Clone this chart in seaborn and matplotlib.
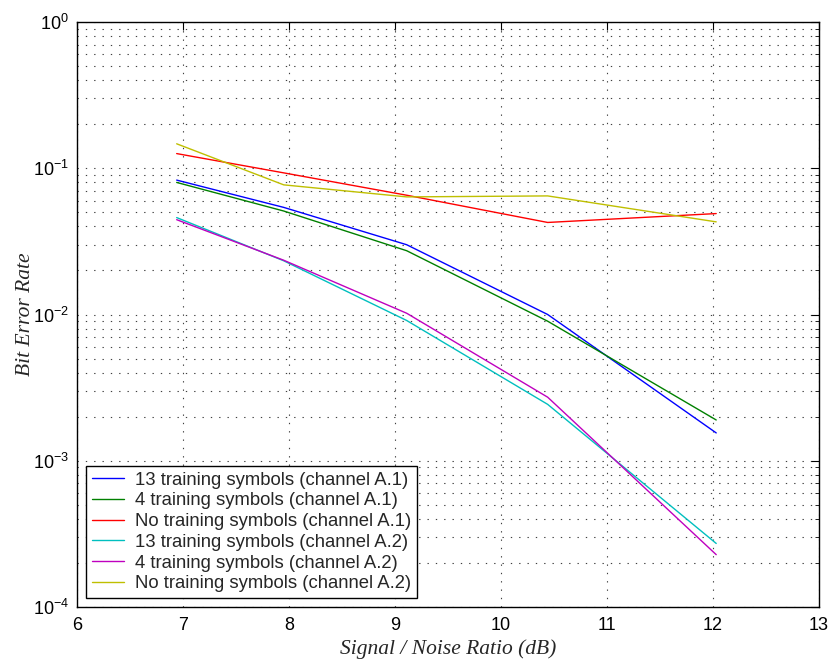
import numpy as np
import pandas as pd
import matplotlib
matplotlib.use("Agg")
import matplotlib.pyplot as plt
import seaborn as sns
from matplotlib.ticker import LogLocator, NullFormatter, FixedLocator

snr = [6.94, 7.95, 9.11, 10.44, 12.03]
ber_13_a1 = [0.083, 0.054, 0.030, 0.0100, 0.00155]
ber_4_a1 = [0.0800, 0.0510, 0.0273, 0.0090, 0.00190]
ber_no_a1 = [0.126, 0.093, 0.0654, 0.0426, 0.0490]
ber_13_a2 = [0.0460, 0.0233, 0.0091, 0.00243, 0.000272]
ber_4_a2 = [0.0445, 0.0235, 0.0102, 0.00272, 0.000228]
ber_no_a2 = [0.147, 0.0770, 0.0637, 0.0647, 0.0430]

labels = ["13 training symbols (channel A.1)",
          "4 training symbols (channel A.1)",
          "No training symbols (channel A.1)",
          "13 training symbols (channel A.2)",
          "4 training symbols (channel A.2)",
          "No training symbols (channel A.2)"]
series = [ber_13_a1, ber_4_a1, ber_no_a1, ber_13_a2, ber_4_a2, ber_no_a2]
colors = ["#0000ff", "#008000", "#ff0000", "#00bfbf", "#bf00bf", "#bfbf00"]

rows = []
for lab, vals in zip(labels, series):
    for x, y in zip(snr, vals):
        rows.append({"snr": x, "ber": y, "series": lab})
df = pd.DataFrame(rows)

sns.set_style("white")
plt.rcParams["font.family"] = ["Liberation Sans", "DejaVu Sans"]
plt.rcParams["mathtext.fontset"] = "custom"
plt.rcParams["mathtext.rm"] = "Liberation Sans"
plt.rcParams["mathtext.it"] = "Liberation Sans:italic"

fig = plt.figure(figsize=(8.31, 6.59), dpi=100)
ax = fig.add_axes([0.0927, 0.0789, 0.8929, 0.8877])

sns.lineplot(data=df, x="snr", y="ber", hue="series", hue_order=labels,
             palette=colors, linewidth=1.0, ax=ax, legend=True)

ax.set_yscale("log")
ax.set_xlim(6, 13)
ax.set_ylim(1e-4, 1)
ax.xaxis.set_major_locator(FixedLocator(range(6, 14)))
ax.yaxis.set_major_locator(LogLocator(base=10, numticks=10))
ax.yaxis.set_minor_locator(LogLocator(base=10, subs=np.arange(2, 10), numticks=20))
ax.yaxis.set_minor_formatter(NullFormatter())

grid_kw = dict(color="0.25", linewidth=0.8, linestyle=(0, (1.2, 6.3)))
ax.grid(True, which="major", axis="both", **grid_kw)
ax.grid(True, which="minor", axis="y", **grid_kw)
ax.set_axisbelow(True)

for s in ax.spines.values():
    s.set_color("black")
    s.set_linewidth(1.0)
ax.tick_params(which="both", direction="in", top=True, right=True,
               colors="black", labelsize=13)
ax.tick_params(which="major", length=6, width=0.8)
ax.tick_params(which="minor", length=3, width=0.6)
ax.tick_params(axis="x", pad=7)
ax.tick_params(axis="y", pad=6)

ax.set_xlabel("Signal / Noise Ratio (dB)", family="Liberation Serif",
              style="italic", fontsize=15.5, labelpad=4)
ax.set_ylabel("Bit Error Rate", family="Liberation Serif",
              style="italic", fontsize=15.5, labelpad=-2)

leg = ax.legend(loc="lower left", fontsize=13.3, frameon=True, fancybox=False,
                edgecolor="black", framealpha=1, borderaxespad=0.5,
                handlelength=1.75, handletextpad=0.6, labelspacing=0.2,
                borderpad=0.3)
leg.get_frame().set_linewidth(1.0)
leg.set_title(None)

fig.savefig("out.png", dpi=100)
